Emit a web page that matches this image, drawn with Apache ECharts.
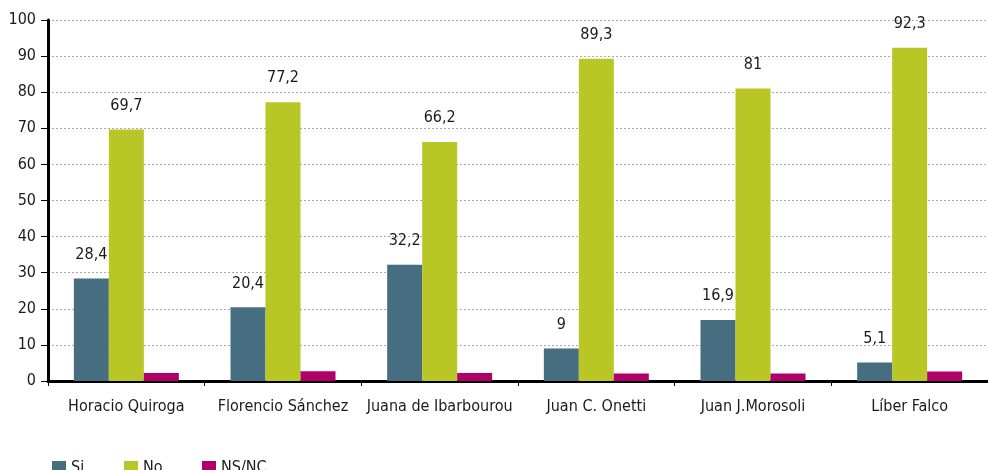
<!DOCTYPE html>
<html><head><meta charset="utf-8">
<script src="https://cdn.jsdelivr.net/npm/echarts@6/dist/echarts.min.js"></script>
<style>html,body{margin:0;padding:0;background:#fff}#c{width:988px;height:470px}</style>
</head><body><div id="c"></div>
<script>
const categories = ['Horacio Quiroga','Florencio Sánchez','Juana de Ibarbourou','Juan C. Onetti','Juan J.Morosoli','Líber Falco'];
const si = [28.4, 20.4, 32.2, 9, 16.9, 5.1];
const no = [69.7, 77.2, 66.2, 89.3, 81, 92.3];
const nsnc = [2.2, 2.7, 2.2, 2.1, 2.1, 2.6];
const seriesNames = ['Si','No','NS/NC'];
const colors = ['#476e80','#b8c726','#b0006a'];
const FONT = "'Liberation Sans Narrow','DejaVu Sans Condensed','Roboto',sans-serif";
const fmt = p => String(p.value).replace('.', ',');
const lbl = {show:true, position:'top', distance:16, color:'#1a1a1a', fontSize:16, fontFamily:FONT, formatter:fmt};
const chart = echarts.init(document.getElementById('c'));
const legendBase = {top:455, itemWidth:14, itemHeight:14, icon:'rect', itemGap:5, textStyle:{fontSize:16, fontFamily:FONT, color:'#1a1a1a'}};
chart.setOption({
  animation:false,
  grid:{left:48, right:-14, top:20, bottom:89},
  legend:[
    Object.assign({left:47, data:[seriesNames[0]]}, legendBase),
    Object.assign({left:119, data:[seriesNames[1]]}, legendBase),
    Object.assign({left:197, data:[seriesNames[2]]}, legendBase)
  ],
  xAxis:{type:'category', data:categories,
    axisLine:{lineStyle:{color:'#000', width:3}},
    axisTick:{show:true, interval:0, length:5, lineStyle:{color:'#000', width:1}},
    axisLabel:{interval:0, color:'#1a1a1a', fontSize:16, fontFamily:FONT, margin:18}},
  yAxis:{type:'value', min:0, max:100, interval:10,
    axisLine:{show:true, lineStyle:{color:'#000', width:3}},
    axisTick:{show:true, length:7, lineStyle:{color:'#000', width:1}},
    axisLabel:{color:'#1a1a1a', fontSize:16, fontFamily:FONT, margin:12},
    splitLine:{show:true, lineStyle:{color:'#aaa', type:[2,2], width:1}}},
  series:[
    {name:seriesNames[0], type:'bar', data:si, barWidth:35, barGap:'0%', itemStyle:{color:colors[0]}, label:lbl},
    {name:seriesNames[1], type:'bar', data:no, barWidth:35, barGap:'0%', itemStyle:{color:colors[1]}, label:lbl},
    {name:seriesNames[2], type:'bar', data:nsnc, barWidth:35, barGap:'0%', itemStyle:{color:colors[2]}}
  ]
});
</script></body></html>
